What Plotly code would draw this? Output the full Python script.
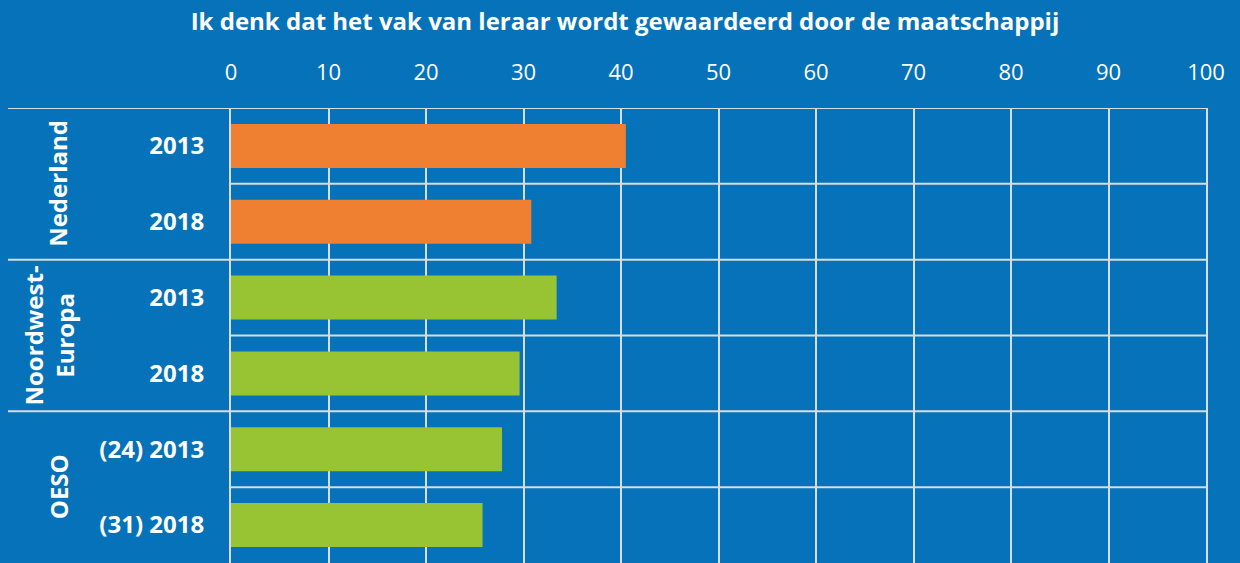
import plotly.graph_objects as go

# Data
row_labels = ["2013", "2018", "2013", "2018", "(24) 2013", "(31) 2018"]
values = [40.5, 30.8, 33.4, 29.6, 27.8, 25.8]
bar_colors = ["#ef7f31", "#ef7f31", "#98c332", "#98c332", "#98c332", "#98c332"]
groups = ["Nederland", "Noordwest-<br>Europa", "OESO"]
group_rows = [(0, 1), (2, 3), (4, 5)]
x_ticks = [0, 10, 20, 30, 40, 50, 60, 70, 80, 90, 100]
title_text = "Ik denk dat het vak van leraar wordt gewaardeerd door de maatschappij"

BG = "#0572b9"
LINE = "#d6dde5"
W, H = 1240, 563
L, R, T, B = 231, 34, 108, 0
pw = W - L - R

def px_to_paper_x(px):
    return (px - L) / pw

ypos = list(range(len(values)))

fig = go.Figure()
fig.add_trace(go.Bar(
    x=values, y=ypos, orientation="h",
    marker=dict(color=bar_colors, line=dict(width=0)),
    width=0.58, hoverinfo="skip",
))

shapes = []
left_x = px_to_paper_x(8)
for yv in [-0.5, 1.5, 3.5]:
    shapes.append(dict(type="line", xref="paper", yref="y", x0=left_x, x1=1,
                       y0=yv, y1=yv, line=dict(color=LINE, width=2), layer="below"))
for yv in [0.5, 2.5, 4.5]:
    shapes.append(dict(type="line", xref="paper", yref="y", x0=0, x1=1,
                       y0=yv, y1=yv, line=dict(color=LINE, width=2), layer="below"))

annotations = []
group_x_px = [58, 48, 58]
for g, (a, b), gx in zip(groups, group_rows, group_x_px):
    annotations.append(dict(
        text="<b>%s</b>" % g, xref="paper", yref="y",
        x=px_to_paper_x(gx), y=(a + b) / 2, textangle=-90, showarrow=False,
        font=dict(family="Open Sans", size=24, color="white"),
        xanchor="center", yanchor="middle",
    ))

fig.update_layout(
    width=W, height=H,
    paper_bgcolor=BG, plot_bgcolor=BG,
    margin=dict(l=L, r=R, t=T, b=B),
    showlegend=False,
    title=dict(text="<b>%s</b>" % title_text, x=0.504, xref="container", xanchor="center",
               y=1 - 22 / H, yref="container", yanchor="middle",
               font=dict(family="Open Sans", size=24, color="white")),
    shapes=shapes, annotations=annotations,
)
fig.update_xaxes(
    side="top", range=[0, 100], tickvals=x_ticks, ticktext=[str(v) for v in x_ticks],
    showgrid=True, gridcolor=LINE, gridwidth=2, zeroline=False,
    showline=False, ticks="outside", ticklen=18, tickcolor=BG,
    tickfont=dict(family="Open Sans", size=22, color="white"),
    fixedrange=True,
)
fig.update_yaxes(
    range=[5.5, -0.5], tickvals=ypos, ticktext=["<b>%s</b>" % t for t in row_labels],
    showgrid=False, zeroline=False, showline=True, mirror=True, linecolor=LINE, linewidth=2,
    ticks="outside", ticklen=20, tickcolor=BG,
    tickfont=dict(family="Open Sans", size=24, color="white"),
    fixedrange=True,
)
fig.write_html(
    "out.html",
    config={"displayModeBar": False},
    post_script="document.body.style.margin='0';document.body.style.overflow='hidden';",
)
